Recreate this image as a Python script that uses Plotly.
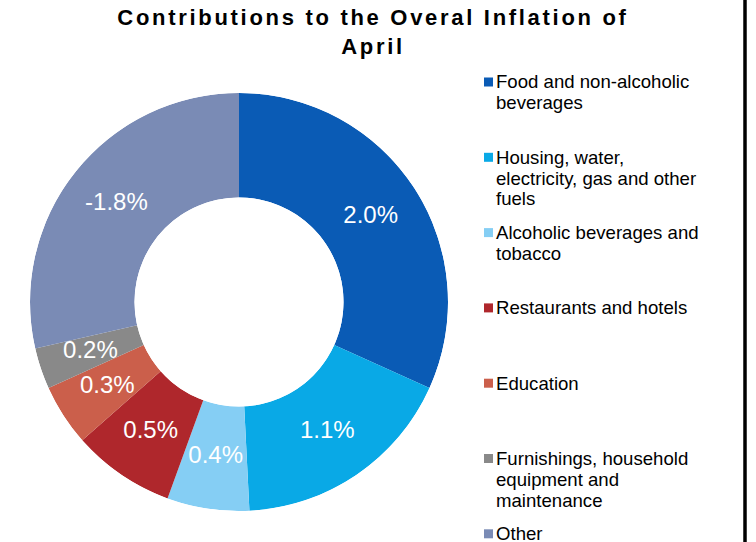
import plotly.graph_objects as go

# ---- data ----
categories = [
    "Food and non-alcoholic beverages",
    "Housing, water, electricity, gas and other fuels",
    "Alcoholic beverages and tobacco",
    "Restaurants and hotels",
    "Education",
    "Furnishings, household equipment and maintenance",
    "Other",
]
legend_lines = [
    ["Food and non-alcoholic", "beverages"],
    ["Housing, water,", "electricity, gas and other", "fuels"],
    ["Alcoholic beverages and", "tobacco"],
    ["Restaurants and hotels"],
    ["Education"],
    ["Furnishings, household", "equipment and", "maintenance"],
    ["Other"],
]
contributions = [2.0, 1.1, 0.4, 0.5, 0.3, 0.2, -1.8]
colors = ["#0A5BB5", "#09A9E6", "#85CEF4", "#AF272C", "#CB5F4B", "#898989", "#7A8BB5"]

W, H = 756, 542
FONT = "Liberation Sans, Arial, sans-serif"

sizes = [abs(v) for v in contributions]
labels_txt = [f"{v:.1f}%" for v in contributions]

# slice spans and mid-angles (degrees clockwise from 12 o'clock), derived from the data
total = sum(sizes)
spans = [s / total * 360 for s in sizes]
mid_theta = []
acc = 0.0
for sp in spans:
    mid_theta.append(acc + sp / 2)
    acc += sp

dom = dict(x=[(239 - 209) / W, (239 + 209) / W],
           y=[(H - 302 - 209) / H, (H - 302 + 209) / H])

fig = go.Figure()
# donut slices
fig.add_trace(go.Barpolar(
    r=[1] * len(sizes),
    theta=mid_theta,
    width=spans,
    base=0,
    text=labels_txt,
    hovertext=categories,
    hoverinfo="text",
    marker=dict(color=colors, line=dict(width=0)),
    showlegend=False,
))
# slice labels at the middle of the ring
fig.add_trace(go.Scatterpolar(
    r=[0.5] * len(contributions),
    theta=mid_theta,
    text=labels_txt,
    mode="text",
    textposition="middle center",
    textfont=dict(family=FONT, size=24, color="white"),
    hoverinfo="skip",
    showlegend=False,
))

# ---- manual legend ----
shapes = []
annotations = []
item_top = 82.0
item_step = 75.3
line_step = 20.8
for i, (lines, col) in enumerate(zip(legend_lines, colors)):
    yc = item_top + i * item_step
    shapes.append(dict(type="rect", xref="paper", yref="paper",
                       x0=484 / W, x1=493 / W,
                       y0=(H - (yc + 4.5)) / H, y1=(H - (yc - 4.5)) / H,
                       fillcolor=col, line=dict(width=0)))
    for j, t in enumerate(lines):
        yl = yc + j * line_step
        annotations.append(dict(text=t, xref="paper", yref="paper",
                                x=494 / W, y=(H - yl) / H,
                                xanchor="left", yanchor="middle",
                                showarrow=False,
                                font=dict(family=FONT, size=18.6, color="black")))

# right frame line
shapes.append(dict(type="line", xref="paper", yref="paper",
                   x0=745 / W, x1=745 / W, y0=0, y1=1,
                   line=dict(color="black", width=3.5)))

fig.update_layout(
    width=W, height=H,
    margin=dict(l=0, r=0, t=0, b=0),
    paper_bgcolor="white",
    plot_bgcolor="white",
    title=dict(
        text='<span style="letter-spacing:2.7px">Contributions to the Overal Inflation of</span><br>'
             '<span style="letter-spacing:2.7px">April</span>',
        x=373 / W, xanchor="center", xref="paper",
        y=1 - 25 / H, yanchor="top", yref="container",
        font=dict(family=FONT, size=22, color="black", weight="bold"),
    ),
    polar=dict(
        domain=dom,
        hole=0.5,
        bgcolor="rgba(0,0,0,0)",
        barmode="overlay",
        radialaxis=dict(range=[0, 1], visible=False, showgrid=False, showline=False),
        angularaxis=dict(rotation=90, direction="clockwise", visible=False,
                         showgrid=False, showline=False),
    ),
    shapes=shapes,
    annotations=annotations,
)

fig.write_html("out.html", config={"displayModeBar": False},
               post_script="document.body.style.margin='0px';")
